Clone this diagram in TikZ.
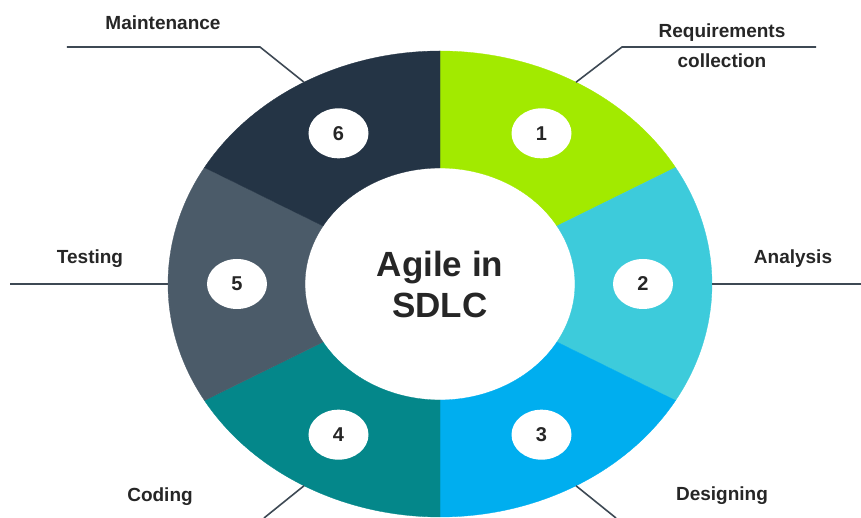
\documentclass[tikz,border=0pt]{standalone}
\usepackage{fontspec}
\setmainfont{Liberation Sans}
\usetikzlibrary{shapes.geometric}

\definecolor{segA}{RGB}{162,234,0}
\definecolor{segB}{RGB}{61,203,219}
\definecolor{segC}{RGB}{0,174,239}
\definecolor{segD}{RGB}{4,135,138}
\definecolor{segE}{RGB}{75,91,105}
\definecolor{segF}{RGB}{36,52,69}
\definecolor{leadgray}{RGB}{62,73,84}
\definecolor{txtdark}{RGB}{38,38,38}

\begin{document}
\begin{tikzpicture}[x=1pt, y=1pt,
    lead/.style={draw=leadgray, line width=1.6pt},
    numdot/.style={ellipse, fill=white, minimum width=60pt, minimum height=50pt, inner sep=0pt,
        font=\bfseries\fontsize{20}{20}\selectfont, text=txtdark},
    lbl/.style={font=\bfseries\fontsize{19}{30}\selectfont, text=txtdark, align=center},
    hub/.style={font=\bfseries\fontsize{35}{41}\selectfont, text=txtdark, align=center}]
    \useasboundingbox (-440,-234) rectangle (421,284);

    % Ring segments, clockwise from the top
    \foreach \a/\b/\col in {90/30/segA, 30/-30/segB, -30/-90/segC, -90/-150/segD, -150/-210/segE, -210/-270/segF}
        \fill[\col, draw=\col, line width=0.3pt] (\a:272 and 233) arc[start angle=\a, end angle=\b, x radius=272, y radius=233]
            -- (\b:135 and 116) arc[start angle=\b, end angle=\a, x radius=135, y radius=116] -- cycle;

    % Step numbers
    \foreach \n/\ang in {1/60, 2/0, 3/-60, 4/-120, 5/180, 6/120}
        \node[numdot] (n\n) at (\ang:203 and 174) {\n};

    \node[hub] (hub) at (0,0) {Agile in\\SDLC};

    % Leader points on the rim and elbows
    \coordinate (r1) at (60:272 and 233);
    \coordinate (r2) at (0:272 and 233);
    \coordinate (r3) at (-60:272 and 233);
    \coordinate (r4) at (-120:272 and 233);
    \coordinate (r5) at (180:272 and 233);
    \coordinate (r6) at (120:272 and 233);
    \coordinate (k1) at (182,237); \coordinate (e1) at (376,237);
    \coordinate (e2) at (421,0);
    \coordinate (k3) at (176,-234);
    \coordinate (k4) at (-176,-234);
    \coordinate (e5) at (-430,0);
    \coordinate (k6) at (-180,237); \coordinate (e6) at (-373,237);

    \draw[lead] (r1) -- (k1) -- (e1);
    \draw[lead] (r2) -- (e2);
    \draw[lead] (r3) -- (k3);
    \draw[lead] (r4) -- (k4);
    \draw[lead] (r5) -- (e5);
    \draw[lead] (r6) -- (k6) -- (e6);

    % Labels
    \node[lbl] (req) at (282,238) {Requirements\\collection};
    \node[lbl] (ana) at (353,25) {Analysis};
    \node[lbl] (des) at (282,-212) {Designing};
    \node[lbl] (cod) at (-280,-213) {Coding};
    \node[lbl] (tst) at (-350,25) {Testing};
    \node[lbl] (mnt) at (-277,261) {Maintenance};
\end{tikzpicture}
\end{document}
